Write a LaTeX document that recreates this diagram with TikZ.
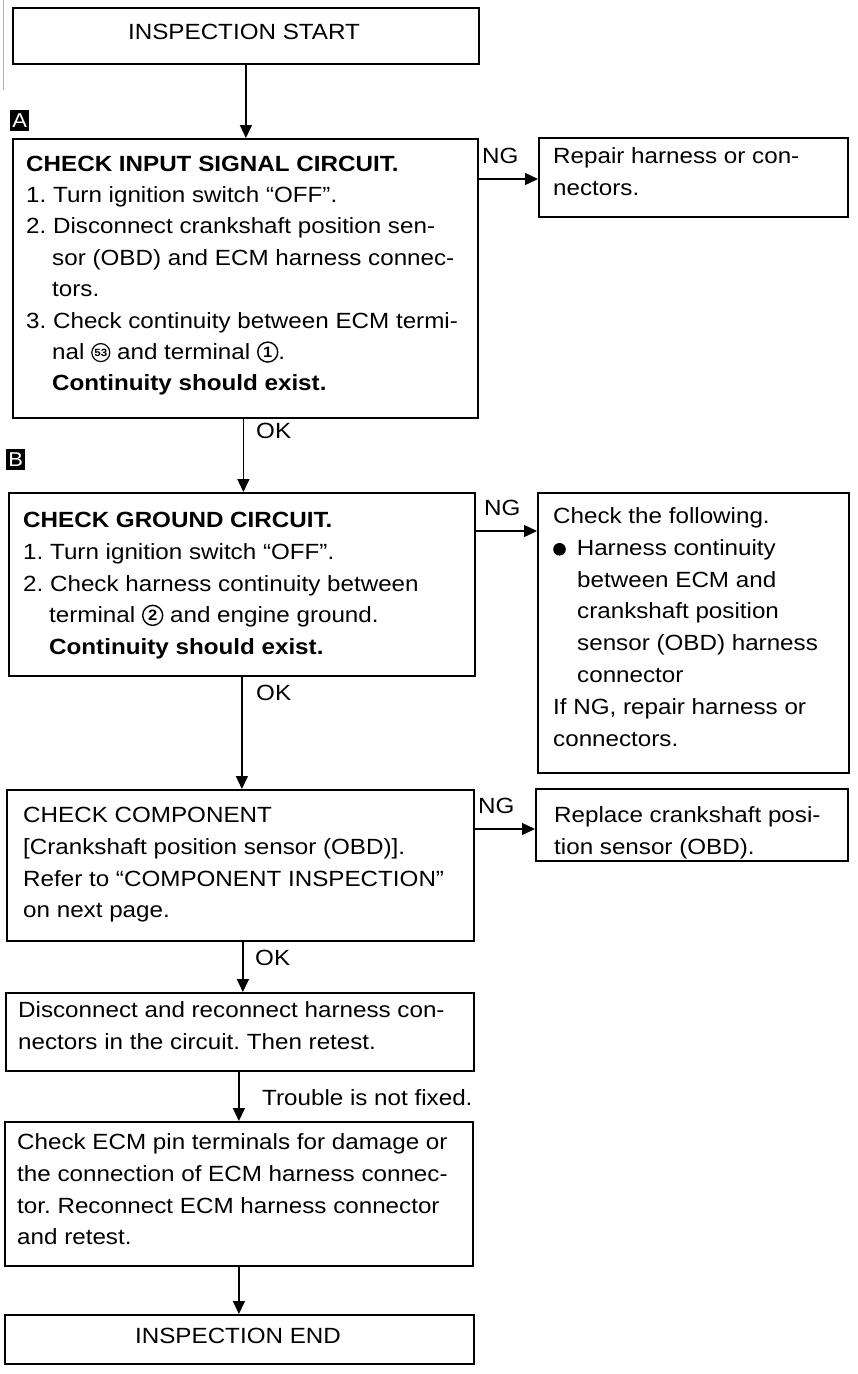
\documentclass[tikz,border=0pt]{standalone}
\usepackage{fontspec}
\setmainfont{Liberation Sans}[FakeStretch=1.1]
\usetikzlibrary{arrows.meta,calc}
\frenchspacing
\newcommand\cnum[1]{\tikz[baseline=-7.5pt]\node[anchor=center,circle,draw,line width=1.4pt,inner sep=0pt,minimum size=20pt,font=\bfseries\fontsize{15}{15}\selectfont]{#1};}
\newcommand\cnumsm[1]{\tikz[baseline=-7pt]\node[anchor=center,circle,draw,line width=1.2pt,inner sep=0pt,minimum size=18pt,font=\bfseries\fontsize{10.5}{10.5}\selectfont]{#1};}
\newcommand\bul{\tikz[baseline=-6pt]\fill (0,0) circle (6.3pt);\hspace{11pt}}
\newcommand\ind{\hspace*{26pt}}
\newcommand\indb{\hspace*{24pt}}
\begin{document}
\begin{tikzpicture}[x=1pt,y=-1pt,
  box/.style={draw,line width=1.8pt,inner sep=0pt,anchor=north west},
  txt/.style={font=\fontsize{22}{31.8}\selectfont,inner sep=0pt,align=left,anchor=north west},
  lbl/.style={font=\fontsize{22}{26}\selectfont,inner sep=0pt,anchor=base west},
  marker/.style={fill=black,text=white,inner sep=0pt,anchor=north west,minimum width=19pt,minimum height=21pt,font=\fontsize{20}{20}\selectfont},
  arr/.style={line width=1.4pt,-{Triangle[width=12pt,length=13pt]}}]
\useasboundingbox (0,0) rectangle (858,1374);
\draw[gray!60,line width=1pt] (3,0) -- (3,90);

% boxes
\node[box,minimum width=466,minimum height=56] (start) at (12,7) {};
\node[box,minimum width=465,minimum height=279] (boxA) at (12,138) {};
\node[box,minimum width=309,minimum height=79] (repair) at (538,137) {};
\node[box,minimum width=466,minimum height=183] (boxB) at (8,492) {};
\node[box,minimum width=311,minimum height=280] (follow) at (537,492) {};
\node[box,minimum width=467,minimum height=151] (comp) at (6,789) {};
\node[box,minimum width=312,minimum height=72] (replace) at (535,788) {};
\node[box,minimum width=468,minimum height=78] (disc) at (5,992) {};
\node[box,minimum width=468,minimum height=144] (ecm) at (4,1121) {};
\node[box,minimum width=469,minimum height=49] (theend) at (4,1314) {};

% markers
\node[marker] (mA) at (10,110) {A};
\node[marker] (mB) at (6,449) {B};

% texts
\node[lbl,anchor=base] (tstart) at (244,39) {INSPECTION START};
\node[txt,font=\fontsize{22}{31.4}\selectfont] (tA) at (26,149) {\strut{\bfseries CHECK INPUT SIGNAL CIRCUIT.}\\
1. Turn ignition switch “OFF”.\\
2. Disconnect crankshaft position sen-\\
\ind sor (OBD) and ECM harness connec-\\
\ind tors.\\
3. Check continuity between ECM termi-\\
\ind nal \cnumsm{53} and terminal \cnum{1}.\\
\ind {\bfseries Continuity should exist.}};
\node[txt] (trepair) at (553,141) {\strut Repair harness or con-\\nectors.};
\node[txt] (tB) at (23,505) {\strut{\bfseries CHECK GROUND CIRCUIT.}\\
1. Turn ignition switch “OFF”.\\
2. Check harness continuity between\\
\ind terminal \cnum{2} and engine ground.\\
\ind {\bfseries Continuity should exist.}};
\node[txt] (tfollow) at (553,501) {\strut Check the following.\\
\bul Harness continuity\\
\indb between ECM and\\
\indb crankshaft position\\
\indb sensor (OBD) harness\\
\indb connector\\
If NG, repair harness or\\
connectors.};
\node[txt] (tcomp) at (23,800) {\strut CHECK COMPONENT\\
{[}Crankshaft position sensor (OBD)].\\
Refer to “COMPONENT INSPECTION”\\
on next page.};
\node[txt] (treplace) at (554,800) {\strut Replace crankshaft posi-\\tion sensor (OBD).};
\node[txt] (tdisc) at (18,995) {\strut Disconnect and reconnect harness con-\\nectors in the circuit. Then retest.};
\node[txt] (tecm) at (17,1127) {\strut Check ECM pin terminals for damage or\\
the connection of ECM harness connec-\\
tor. Reconnect ECM harness connector\\
and retest.};
\node[lbl,anchor=base] (tend) at (238,1343) {INSPECTION END};

% connector labels
\node[lbl] (ng1) at (482,163) {NG};
\node[lbl] (ng2) at (484,515) {NG};
\node[lbl] (ng3) at (478,813) {NG};
\node[lbl] (ok1) at (256,438) {OK};
\node[lbl] (ok2) at (256,700) {OK};
\node[lbl] (ok3) at (255,965) {OK};
\node[lbl] (tnf) at (262,1105) {Trouble is not fixed.};

% connectors
\draw[arr] (start.south) -- (start.south |- boxA.north);
\draw[arr] ([xshift=-2pt]boxA.south) -- ([xshift=-2pt]boxA.south |- boxB.north);
\draw[arr] (boxB.south) -- (boxB.south |- comp.north);
\draw[arr] ([xshift=2.5pt]comp.south) -- ([xshift=2.5pt]comp.south |- disc.north);
\draw[arr] ([xshift=-1pt]disc.south) -- ([xshift=-1pt]disc.south |- ecm.north);
\draw[arr] (ecm.south) -- (ecm.south |- theend.north);
\draw[arr] ([yshift=-41pt]boxA.north east) -- ([yshift=-41pt]boxA.north east -| repair.west);
\draw[arr] ([yshift=-39pt]boxB.north east) -- ([yshift=-39pt]boxB.north east -| follow.west);
\draw[arr] ([yshift=-40pt]comp.north east) -- ([yshift=-40pt]comp.north east -| replace.west);
\end{tikzpicture}
\end{document}
